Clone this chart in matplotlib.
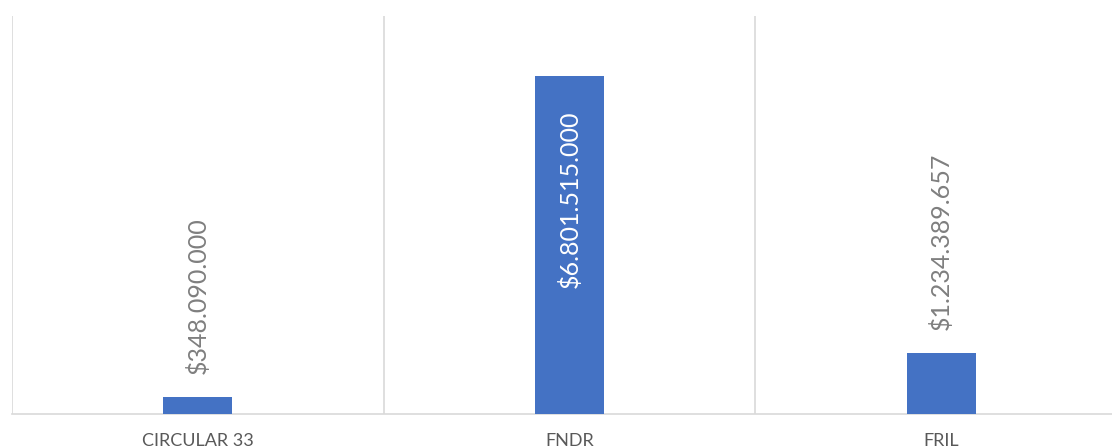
import matplotlib
matplotlib.use("Agg")
import matplotlib.pyplot as plt
import numpy as np

# data
categories = ["CIRCULAR 33", "FNDR", "FRIL"]
amounts = [348090000, 6801515000, 1234389657]
value_labels = ["$348.090.000", "$6.801.515.000", "$1.234.389.657"]
inside_label = [False, True, False]

plt.rcParams['font.family'] = ['Lato', 'DejaVu Sans']

fig = plt.figure(figsize=(11.12, 4.48), dpi=100)
ax = fig.add_axes([12 / 1112, 34 / 448, 1115 / 1112, 398 / 448])

x = np.arange(len(categories))
bars = ax.bar(x, amounts, width=0.186, color='#4472C4', zorder=3)

ax.set_xlim(-0.5, len(categories) - 0.5)
ax.set_ylim(0, 8e9)

# category separators
ax.set_xticks(x)
ax.set_xticklabels(categories, color='#595959', fontsize=13)
ax.set_xticks(np.arange(len(categories) + 1) - 0.5, minor=True)
ax.tick_params(axis='x', which='both', length=0, pad=13.5)
ax.grid(True, axis='x', which='minor', color='#d9d9d9', linewidth=1.2, zorder=0)
ax.set_yticks([])

for side in ['top', 'right', 'left']:
    ax.spines[side].set_visible(False)
ax.spines['bottom'].set_color('#d9d9d9')
ax.spines['bottom'].set_linewidth(1.2)

for bar, lab, inside in zip(bars, value_labels, inside_label):
    cx = bar.get_x() + bar.get_width() / 2
    top = bar.get_height()
    if inside:
        ax.annotate(lab, (cx, top), xytext=(0, -25), textcoords='offset points',
                    rotation=90, ha='center', va='top', color='white', fontsize=18, zorder=4)
    else:
        ax.annotate(lab, (cx, top), xytext=(0, 16), textcoords='offset points',
                    rotation=90, ha='center', va='bottom', color='#7f7f7f', fontsize=18, zorder=4)

fig.savefig('out.png', dpi=100)
